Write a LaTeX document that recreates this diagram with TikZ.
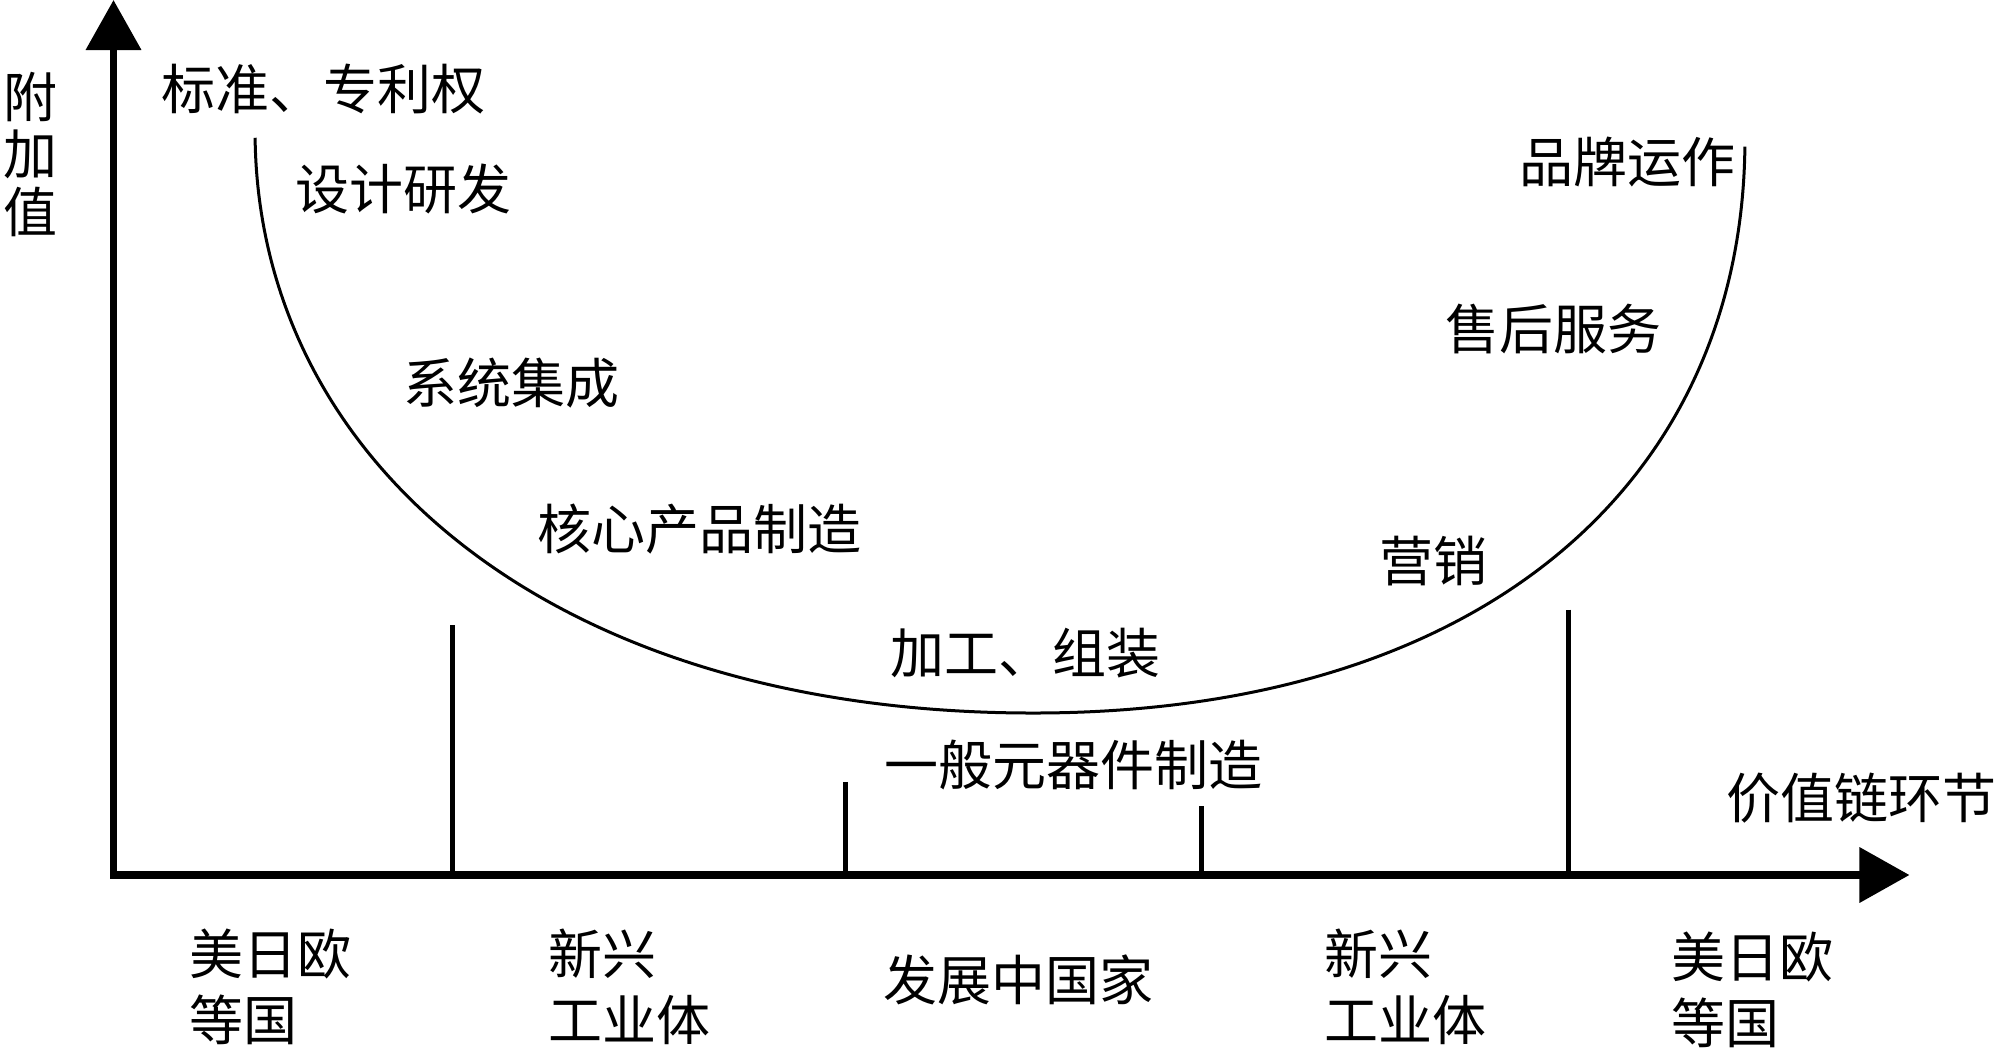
\documentclass[tikz,border=0pt]{standalone}
\usepackage{fontspec}
\newfontfamily\cjk{Noto Sans CJK SC}
\usetikzlibrary{arrows.meta}
\tikzset{
  axisline/.style={line width=3.6pt, line join=miter, {Triangle[length=25pt,width=27pt]}-{Triangle[length=25pt,width=27pt]}},
  tickline/.style={line width=2.4pt},
  ucurve/.style={line width=1.5pt},
  lbl/.style={inner sep=0pt, anchor=west, font=\cjk\fontsize{27}{33}\selectfont, align=left},
}
\begin{document}
\begin{tikzpicture}[x=0.6378pt, y=-0.6378pt]
\useasboundingbox (0,0) rectangle (1568,828);
\fill[white] (0,0) rectangle (1568,828);
% axes
\coordinate (ytip) at (89,0);
\coordinate (O) at (89,686);
\coordinate (xtip) at (1497,686);
\draw[axisline] (ytip) -- (O) -- (xtip);
% ticks
\coordinate (t1a) at (355,490); \coordinate (t1b) at (355,686);
\coordinate (t2a) at (663,613); \coordinate (t2b) at (663,686);
\coordinate (t3a) at (942,632); \coordinate (t3b) at (942,686);
\coordinate (t4a) at (1230,478); \coordinate (t4b) at (1230,686);
\draw[tickline] (t1a) -- (t1b);
\draw[tickline] (t2a) -- (t2b);
\draw[tickline] (t3a) -- (t3b);
\draw[tickline] (t4a) -- (t4b);
% smile curve
\coordinate (cl) at (200,108);
\coordinate (cb) at (810,559);
\coordinate (cr) at (1368,115);
\draw[ucurve] (cl) .. controls (203,360) and (430,559) .. (cb)
                   .. controls (1160,559) and (1365,380) .. (cr);
% labels
\node[lbl, anchor=center, align=center, font=\cjk\fontsize{27}{28.7}\selectfont] (yl) at (24,121) {附\\加\\值};
\node[lbl] (n1) at (126,70) {标准、专利权};
\node[lbl] (n2) at (231,148) {设计研发};
\node[lbl] (n3) at (316,300) {系统集成};
\node[lbl] (n4) at (421,415) {核心产品制造};
\node[lbl] (n5) at (698,512) {加工、组装};
\node[lbl] (n6) at (693,600) {一般元器件制造};
\node[lbl] (n7) at (1081,440) {营销};
\node[lbl] (n8) at (1133,258) {售后服务};
\node[lbl] (n9) at (1191,127) {品牌运作};
\node[lbl] (xl) at (1353,626) {价值链环节};
\node[lbl] (b1) at (148,774) {美日欧\\等国};
\node[lbl] (b2) at (430,774) {新兴\\工业体};
\node[lbl] (b3) at (692,768) {发展中国家};
\node[lbl] (b4) at (1038,774) {新兴\\工业体};
\node[lbl] (b5) at (1310,776) {美日欧\\等国};
\end{tikzpicture}
\end{document}
